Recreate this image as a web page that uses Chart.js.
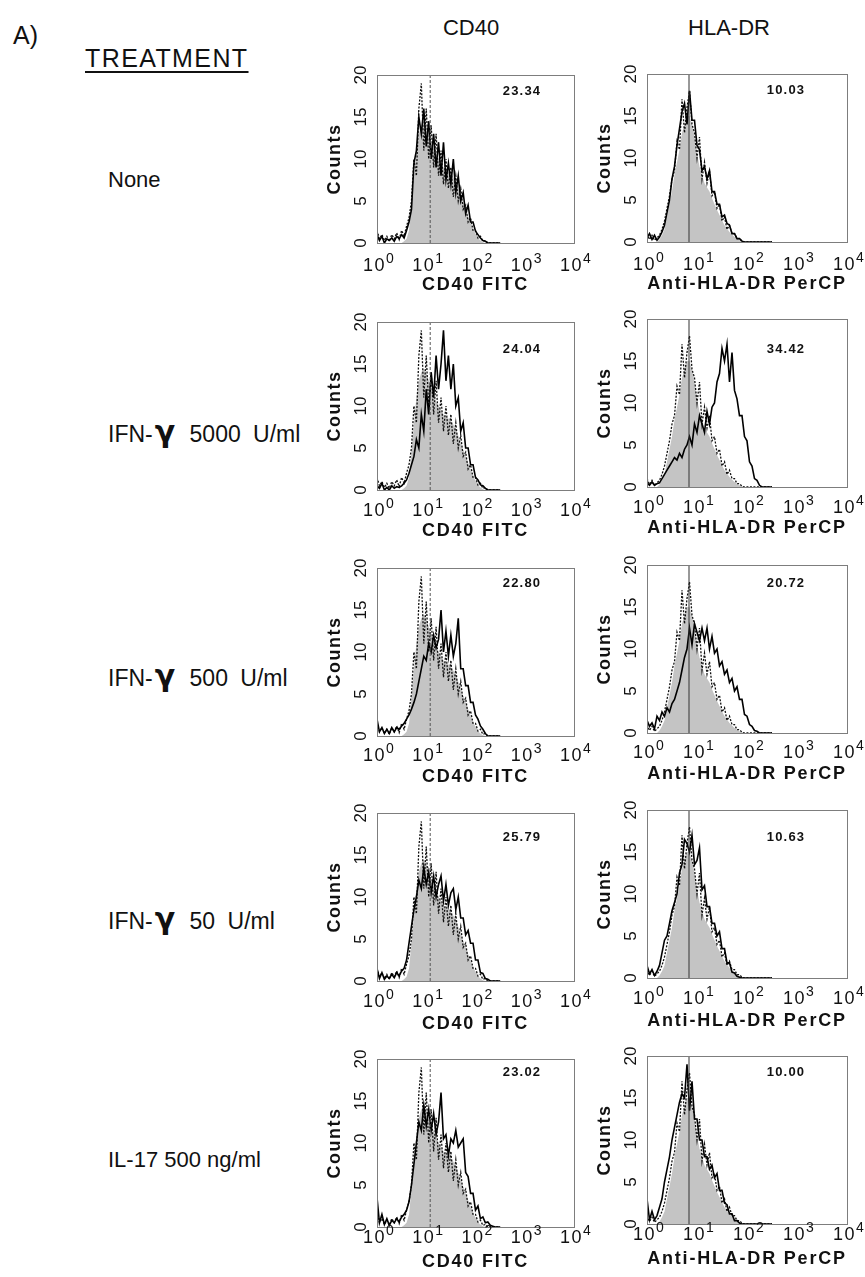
<!DOCTYPE html>
<html>
<head>
<meta charset="utf-8">
<script src="https://cdn.jsdelivr.net/npm/chart.js@4.4.1/dist/chart.umd.min.js"></script>
<style>
  body { margin: 0; background: #fff; }
  #page { position: relative; width: 865px; height: 1277px; overflow: hidden; font-family: "Liberation Sans", Arial, sans-serif; color: #111; }
  .txt { position: absolute; white-space: nowrap; font-size: 22px; line-height: 1; }
  .head { transform: translateX(-50%); }
  .gamma { font-family: "DejaVu Sans", sans-serif; font-weight: bold; font-size: 30px; margin: 0 2px 0 2px; }
  .ifn { font-size: 23px; word-spacing: 6px; }
  canvas { position: absolute; }
</style>
</head>
<body>
<div id="page">
  <div class="txt" style="left:13px;top:23px;font-size:25px;">A)</div>
  <div class="txt" style="left:85px;top:46px;font-size:25px;letter-spacing:1.4px;text-decoration:underline;text-underline-offset:4px;">TREATMENT</div>
  <div class="txt head" style="left:471px;top:17px;font-size:22px;">CD40</div>
  <div class="txt head" style="left:729px;top:17px;font-size:22px;">HLA-DR</div>
</div>
<script>
// x positions of the histogram channels, in decades (10^0 .. 10^4)
const DECADES = [0, 0.05, 0.1, 0.15, 0.2, 0.25, 0.3, 0.35, 0.4, 0.45,
  0.5, 0.55, 0.6, 0.65, 0.7, 0.75, 0.8, 0.85, 0.9, 0.95,
  1, 1.05, 1.1, 1.15, 1.2, 1.25, 1.3, 1.35, 1.4, 1.45,
  1.5, 1.55, 1.6, 1.65, 1.7, 1.75, 1.8, 1.85, 1.9, 1.95,
  2, 2.05, 2.1, 2.15, 2.2, 2.25, 2.3, 2.35, 2.4, 2.45, 2.5];

const X_TICKS = [0, 1, 2, 3, 4];
const Y_TICKS = [0, 5, 10, 15, 20];

const TREATMENTS = ['None', 'IFN-γ 5000 U/ml', 'IFN-γ 500 U/ml', 'IFN-γ 50 U/ml', 'IL-17 500 ng/ml'];
const CD40_PERCENT = ['23.34', '24.04', '22.80', '25.79', '23.02'];
const HLA_PERCENT = ['10.03', '34.42', '20.72', '10.63', '10.00'];

// marker (gate) position, decades
const CD40_MARKER = 1.08;
const HLA_MARKER = 0.84;

// grey filled isotype controls
const CD40_ISOTYPE = [0, 0, 0, 0, 0, 0, 0, 0, 0, 0, 0, 0.2, 0.5,
  1.5, 4.5, 8, 11, 13, 14, 14.5, 14, 13, 12, 11.5, 10.5, 10,
  9.5, 9, 8.8, 8.5, 8.2, 7.8, 7.2, 6.5, 5.6, 4.8, 4, 3.2, 2.4,
  1.7, 1.1, 0.6, 0.3, 0.1, 0, 0, 0, 0, 0, 0, 0];
const HLA_ISOTYPE = [0, 0, 0, 0, 0, 0.3, 0.8, 1.5, 3, 4.5, 6, 8, 9.5,
  11, 13, 14, 15, 15, 14, 12.5, 10.5, 9, 8, 7, 6.5, 6,
  5.2, 4.5, 3.8, 3.2, 2.6, 2, 1.6, 1.2, 0.9, 0.6, 0.4, 0.2, 0.1,
  0, 0, 0, 0, 0, 0, 0, 0, 0, 0, 0, 0];

// dotted: untreated cells
const CD40_UNTREATED = [1.5, 0.5, 1, 0.3, 0.8, 0.2, 1, 0.5, 1.2, 0.4, 1.5, 0.8, 2, 3,
  5, 10, 8, 16, 19, 11, 16, 10, 14, 9, 13, 8, 11,
  7, 10, 6.5, 9, 5.5, 8, 5, 6.5, 4, 4.5, 2.5, 3, 1.5,
  1.5, 0.6, 0.8, 0.2, 0.3, 0, 0, 0, 0, 0, 0];
const HLA_UNTREATED = [1, 0.3, 0.8, 0.2, 0.5, 0.8, 1.5, 2.5, 4, 5.5, 7.5, 8.5, 12,
  11, 17, 13, 16, 18, 14, 13, 10, 12.5, 7.5, 9.5, 7, 8.5,
  5.5, 6, 4, 4.5, 2.5, 3, 1.5, 2, 1, 1, 0.4, 0.4, 0.1,
  0, 0, 0, 0, 0, 0, 0, 0, 0, 0, 0, 0];

// solid: treated cells, one per row
const CD40_NONE = [1, 0.3, 0.8, 0, 0.5, 0.3, 0.6, 0.2, 0.8, 0.5, 1, 0.6, 1.5, 2.5,
  4, 9.5, 11, 15, 13, 16, 11.5, 14.5, 10, 13, 9, 12, 8,
  12, 7.5, 9.5, 7, 10, 6, 8, 5, 6, 3.5, 4.5, 2.5, 2.5,
  1.4, 1, 0.6, 0.3, 0.2, 0, 0, 0, 0, 0, 0];
const CD40_IFN5000 = [0.5, 0.2, 0.8, 0, 0.3, 0, 0.5, 0.2, 0.4, 0.3, 0.5, 0.8, 1.2, 2,
  3, 4, 6, 5, 9, 7, 12, 9, 14, 11, 16, 12, 15,
  19, 13, 16, 12, 15, 10, 11, 7, 8, 5, 5, 3, 3,
  1.5, 1.2, 0.6, 0.5, 0.2, 0, 0, 0, 0, 0, 0];
const CD40_IFN500 = [2, 0.5, 1, 0.3, 0.8, 0.3, 1, 0.5, 1, 0.8, 1.2, 1.5, 2, 2.5, 3.2, 4,
  5, 6.5, 8, 9.5, 9, 11, 10, 12, 10.5, 11.5, 15, 10, 12.5, 9.5, 12, 9.5, 11,
  14, 8, 8, 6, 6, 4, 4, 2.5, 2, 1.2, 0.8, 0.3, 0, 0, 0, 0, 0, 0];
const CD40_IFN50 = [1.5, 0.3, 1, 0.2, 0.6, 0.3, 0.8, 0.4, 1, 0.6, 1.2, 1.5,
  2.5, 4.5, 6.5, 8.5, 10, 12, 11, 13.5, 11.5, 13, 10.5, 12.5, 10, 11.5, 12.5, 9.5, 11.5, 9, 10.5, 11,
  8.5, 10, 7.5, 7.5, 5.5, 6, 4.5, 4.5, 2.5, 2.5, 1, 0.9, 0.3, 0.2, 0, 0, 0, 0, 0];
const CD40_IL17 = [3.5, 0.5, 1.5, 0.3, 1, 0.2, 0.8, 0.5, 1, 0.6, 1.2, 1.5, 2,
  3, 5, 7.5, 10, 12.5, 11.5, 14.5, 12, 14, 11.5, 13.5, 11, 12.5,
  16, 10.5, 11, 8.5, 10.5, 10, 11.5, 9.5, 10, 10.5, 6.5, 6, 4,
  4, 2, 2.5, 1, 1.2, 0.5, 0.6, 0.2, 0.1, 0, 0, 0];

const HLA_NONE = [0.5, 1, 0.3, 0.8, 0.2, 0.6, 1.2, 2, 3.5, 5, 7.5, 9, 11.5,
  13.5, 15.5, 16.5, 14, 18, 14.5, 14.5, 11.5, 11, 8.5, 9, 7.5, 8.5,
  6, 6, 4.5, 4.5, 3, 3.2, 2.2, 2, 1, 1, 0.4, 0.4, 0.1,
  0, 0, 0, 0, 0, 0, 0, 0, 0, 0, 0, 0];
const HLA_IFN5000 = [0.5, 0.2, 0.6, 0.2, 0.4, 0.5, 1, 1.5, 2, 2.5, 3, 3.5, 3.2,
  4, 3.5, 4.5, 5, 6, 5, 7.5, 6.5, 8.5, 7.5, 6.5, 9, 7.5,
  9.5, 10, 12.5, 13.5, 16.5, 15, 17, 12.5, 16, 11.5, 10.5, 8.5, 8.5,
  6, 5.5, 3, 2.5, 1, 0.8, 0.2, 0, 0, 0, 0, 0];
const HLA_IFN500 = [1.5, 0.8, 1.2, 0.5, 2, 1.5, 2.5, 2, 3, 2.5, 3.5, 4, 5,
  6, 7.5, 9, 10, 12.5, 10.5, 13, 12, 11, 12.5, 11, 12.5, 10,
  11.5, 9.5, 10, 8, 8.5, 7, 7.5, 6, 6.5, 5, 5.5, 4, 4,
  2.2, 2, 1, 0.8, 0.3, 0.2, 0, 0, 0, 0, 0, 0];
const HLA_IFN50 = [1.5, 0.5, 1, 0.3, 0.8, 1.5, 3, 4.5, 5, 6.5, 8, 9, 10,
  12.5, 13.5, 16.5, 16, 15, 17, 13.5, 14, 15.5, 10.5, 11, 8.5, 8.5,
  6.5, 6.5, 5, 5.5, 3.5, 3.5, 1.8, 1.8, 0.7, 0.6, 0.2, 0.1, 0,
  0, 0, 0, 0, 0, 0, 0, 0, 0, 0, 0, 0];
const HLA_IL17 = [3, 0.5, 1.5, 0.5, 1, 2, 3, 5, 6.5, 8, 10, 11.5, 13,
  14.5, 15.5, 15, 19, 13.5, 17, 12.5, 12.5, 10, 10, 8, 8, 6.5,
  7, 5.5, 6, 4, 4, 2.5, 2.3, 1.2, 1.2, 0.4, 0.4, 0.1, 0,
  0, 0, 0, 0, 0, 0, 0, 0, 0, 0, 0, 0];

const CD40_TREATED = [CD40_NONE, CD40_IFN5000, CD40_IFN500, CD40_IFN50, CD40_IL17];
const HLA_TREATED = [HLA_NONE, HLA_IFN5000, HLA_IFN500, HLA_IFN50, HLA_IL17];

// ---- layout (pixels) ----
const BOX_H = 168;
const CD40_LEFT = 377, CD40_W = 197;
const HLA_LEFT = 647, HLA_W = 200;
const CD40_TOPS = [75, 322, 568, 813, 1059];
const HLA_TOPS = [74, 319, 565, 810, 1056];
const CD40_PCT_DY = [16, 27, 15, 24, 13];
const HLA_PCT_DY = [16, 30, 18, 27, 16];
const TICK_DY = [28, 26, 25, 26, 16];
const TITLE_DY = [47, 46, 46, 48, 40];
const LABEL_Y = [180, 428, 672, 915, 1160];
const PAD = { left: 62, top: 22, right: 20, bottom: 56 };

const FONT = '"Liberation Sans", Arial, sans-serif';

const points = (ys) => DECADES.map((d, i) => ({ x: d, y: ys[i] }));

const framePlugin = {
  id: 'frame',
  afterDraw(chart, args, o) {
    const { ctx, chartArea: a, scales: { x, y } } = chart;
    ctx.save();
    ctx.strokeStyle = '#7d7d7d';
    ctx.lineWidth = 1;
    ctx.strokeRect(Math.round(a.left) + 0.5, Math.round(a.top) + 0.5, a.right - a.left, a.bottom - a.top);
    ctx.fillStyle = '#111';

    // y tick labels, rotated
    ctx.font = '17px ' + FONT;
    ctx.textAlign = 'center';
    ctx.textBaseline = 'middle';
    Y_TICKS.forEach(v => {
      ctx.save();
      ctx.translate(a.left - 17, y.getPixelForValue(v));
      ctx.rotate(-Math.PI / 2);
      ctx.fillText(String(v), 0, 1);
      ctx.restore();
    });

    // y title
    ctx.save();
    ctx.font = 'bold 18px ' + FONT;
    ctx.letterSpacing = '1.5px';
    ctx.translate(a.left - 42, (a.top + a.bottom) / 2);
    ctx.rotate(-Math.PI / 2);
    ctx.fillText('Counts', 0, 0);
    ctx.restore();

    // x tick labels 10^n
    ctx.textBaseline = 'alphabetic';
    X_TICKS.forEach(v => {
      const px = x.getPixelForValue(v);
      ctx.font = '18px ' + FONT;
      ctx.letterSpacing = '1.5px';
      ctx.textAlign = 'right';
      ctx.fillText('10', px + 9, a.bottom + o.tickDy);
      ctx.font = '14px ' + FONT;
      ctx.letterSpacing = '0px';
      ctx.textAlign = 'left';
      ctx.fillText(String(v), px + 9, a.bottom + o.tickDy - 8);
    });

    // x title
    ctx.font = 'bold 18px ' + FONT;
    ctx.letterSpacing = '1.8px';
    ctx.textAlign = 'center';
    ctx.fillText(o.xTitle, (a.left + a.right) / 2, a.bottom + o.titleDy);

    // percentage
    ctx.font = 'bold 13px ' + FONT;
    ctx.letterSpacing = '1.2px';
    ctx.textBaseline = 'middle';
    ctx.fillText(o.pct, a.left + o.pctDx, a.top + o.pctDy);
    ctx.restore();
  }
};

function makePanel(row, kind) {
  const isCD40 = kind === 'cd40';
  const boxLeft = isCD40 ? CD40_LEFT : HLA_LEFT;
  const boxW = isCD40 ? CD40_W : HLA_W;
  const boxTop = isCD40 ? CD40_TOPS[row] : HLA_TOPS[row];
  const canvas = document.createElement('canvas');
  const w = PAD.left + boxW + PAD.right;
  const h = PAD.top + BOX_H + PAD.bottom;
  canvas.width = w; canvas.height = h;
  canvas.style.left = (boxLeft - PAD.left) + 'px';
  canvas.style.top = (boxTop - PAD.top) + 'px';
  canvas.style.width = w + 'px';
  canvas.style.height = h + 'px';
  document.getElementById('page').appendChild(canvas);

  const marker = isCD40 ? CD40_MARKER : HLA_MARKER;
  new Chart(canvas, {
    type: 'line',
    data: {
      datasets: [
        {
          data: [{ x: marker, y: 0 }, { x: marker, y: 20 }],
          borderColor: isCD40 ? '#555' : '#333',
          borderWidth: 1,
          borderDash: isCD40 ? [3, 2] : [],
          order: 0,
        },
        {
          data: points(isCD40 ? CD40_TREATED[row] : HLA_TREATED[row]),
          borderColor: '#000',
          borderWidth: 1.6,
          order: 1,
        },
        {
          data: points(isCD40 ? CD40_UNTREATED : HLA_UNTREATED),
          borderColor: '#111',
          borderWidth: 1.3,
          borderDash: [2, 1.5],
          order: 2,
        },
        {
          data: points(isCD40 ? CD40_ISOTYPE : HLA_ISOTYPE),
          borderColor: 'rgba(0,0,0,0)',
          borderWidth: 0,
          backgroundColor: '#c4c4c4',
          fill: 'origin',
          order: 3,
        },
      ],
    },
    options: {
      responsive: false,
      animation: false,
      events: [],
      layout: { padding: PAD },
      elements: { point: { radius: 0 }, line: { tension: 0 } },
      scales: {
        x: { type: 'linear', min: 0, max: 4, display: false },
        y: { type: 'linear', min: 0, max: 20, display: false },
      },
      plugins: {
        legend: { display: false },
        tooltip: { enabled: false },
        frame: {
          xTitle: isCD40 ? 'CD40 FITC' : 'Anti-HLA-DR PerCP',
          pct: isCD40 ? CD40_PERCENT[row] : HLA_PERCENT[row],
          pctDx: isCD40 ? 145 : 139,
          pctDy: isCD40 ? CD40_PCT_DY[row] : HLA_PCT_DY[row],
          tickDy: TICK_DY[row],
          titleDy: TITLE_DY[row],
        },
      },
    },
    plugins: [framePlugin],
  });
}

TREATMENTS.forEach((name, row) => {
  const div = document.createElement('div');
  div.className = 'txt' + (name.includes('γ') ? ' ifn' : '');
  div.style.left = '108px';
  div.style.top = (LABEL_Y[row] - 11) + 'px';
  div.innerHTML = name.replace('γ', '<span class="gamma">γ</span>');
  document.getElementById('page').appendChild(div);
  makePanel(row, 'cd40');
  makePanel(row, 'hla');
});
</script>
</body>
</html>
